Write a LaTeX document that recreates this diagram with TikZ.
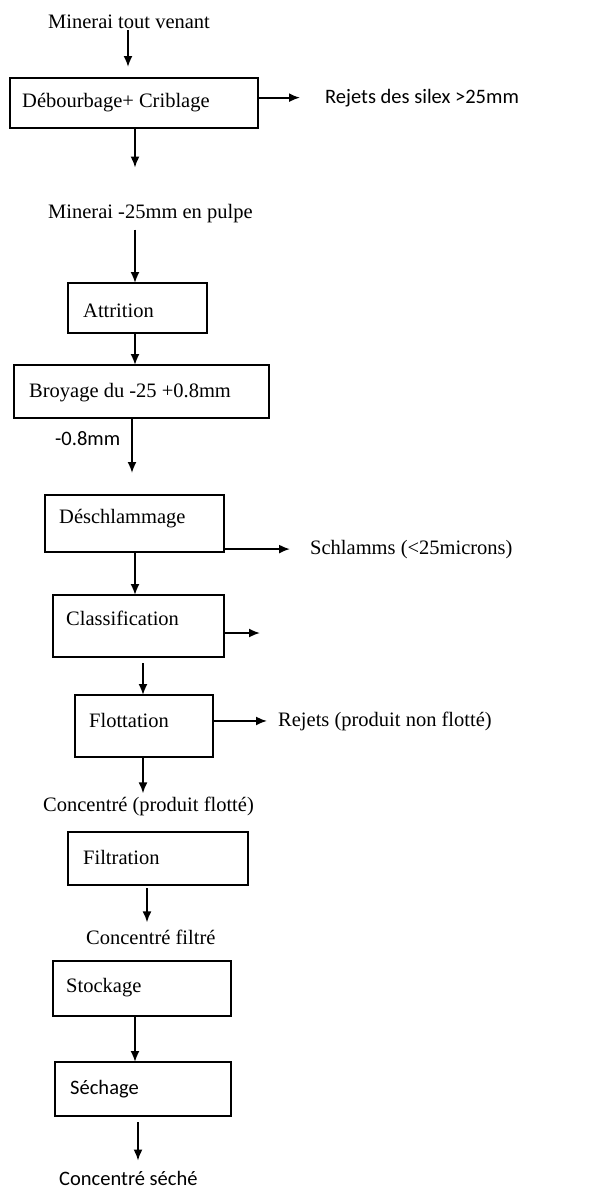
\documentclass[tikz,border=0pt]{standalone}
\usepackage{fontspec}
\setmainfont{Liberation Serif}
\newfontfamily\calib{Carlito}
\usepackage{tikz}
\usetikzlibrary{arrows.meta}

\begin{document}
\begin{tikzpicture}[x=1pt,y=-1pt,>={Latex[length=11pt,width=9pt]}]

	\tikzstyle box=[draw, line width=1.7pt, outer sep=0pt, inner sep=0pt];
	\tikzstyle txt=[inner sep=0pt, anchor=base west, font=\fontsize{20.5}{24}\selectfont];
	\tikzstyle stxt=[inner sep=0pt, anchor=base west, font=\calib\fontsize{20.5}{24}\selectfont];
	\tikzstyle flow=[line width=1.8pt, ->];

	\useasboundingbox (0,0) rectangle (611,1189);

	% boxes
	\node[box, minimum width=248, minimum height=50] (debourbage) at (134,103) {};
	\node[box, minimum width=139, minimum height=50] (attrition) at (137.5,308) {};
	\node[box, minimum width=255, minimum height=53] (broyage) at (141.5,391.5) {};
	\node[box, minimum width=179, minimum height=57] (deschlammage) at (134.5,523.5) {};
	\node[box, minimum width=171, minimum height=62] (classification) at (138.5,626) {};
	\node[box, minimum width=138, minimum height=62] (flottation) at (144,726) {};
	\node[box, minimum width=180, minimum height=53] (filtration) at (158,858.5) {};
	\node[box, minimum width=178, minimum height=55] (stockage) at (142,988.5) {};
	\node[box, minimum width=176, minimum height=54] (sechage) at (143,1089) {};

	% texts in the boxes
	\node[txt] (debourbagelbl) at (22,107) {Débourbage+ Criblage};
	\node[txt] (attritionlbl) at (83,317) {Attrition};
	\node[txt] (broyagelbl) at (29,397) {Broyage du -25 +0.8mm};
	\node[txt] (deschlammagelbl) at (59,523) {Déschlammage};
	\node[txt] (classificationlbl) at (66,625) {Classification};
	\node[txt] (flottationlbl) at (89,727) {Flottation};
	\node[txt] (filtrationlbl) at (83,864) {Filtration};
	\node[txt] (stockagelbl) at (66,992) {Stockage};
	\node[stxt] (sechagelbl) at (70,1094) {Séchage};

	% products
	\node[txt] (minerai) at (48,28) {Minerai tout venant};
	\node[stxt] (rejetsilex) at (325,103) {Rejets des silex >25mm};
	\node[txt] (minerai25) at (48,218) {Minerai -25mm en pulpe};
	\node[stxt] (fin) at (55,445) {-0.8mm};
	\node[txt] (schlamms) at (310,554) {Schlamms (<25microns)};
	\node[txt] (rejetsflot) at (278,726) {Rejets (produit non flotté)};
	\node[txt] (concentre) at (43,811) {Concentré (produit flotté)};
	\node[txt] (concfiltre) at (86,944) {Concentré filtré};
	\node[stxt] (concseche) at (59,1185) {Concentré séché};
	\coordinate (classout) at (260,633);

	% main line
	\draw[flow, shorten <=2, shorten >=11] ([xshift=80]minerai.south west) -- ([xshift=-6]debourbage.north);
	\draw[flow, shorten >=36] ([xshift=1]debourbage.south) -- ([xshift=87]minerai25.north west);
	\draw[flow, shorten <=7] ([xshift=87]minerai25.south west) -- ([xshift=-2.5]attrition.north);
	\draw[flow] ([xshift=-2.5]attrition.south) -- ([xshift=-6.5]broyage.north);
	\draw[flow, shorten >=22] ([xshift=-9.5]broyage.south) -- ([xshift=-2.5]deschlammage.north);
	\draw[flow] ([xshift=.5]deschlammage.south) -- ([xshift=-3.5]classification.north);
	\draw[flow, shorten <=6] ([xshift=4.5]classification.south) -- ([xshift=-1]flottation.north);
	\draw[flow, shorten >=3] ([xshift=-1]flottation.south) -- ([xshift=100]concentre.north west);
	\draw[flow, shorten <=3, shorten >=7] ([xshift=-11]filtration.south) -- ([xshift=61]concfiltre.north west);
	\draw[flow] ([xshift=-7]stockage.south) -- ([xshift=-8]sechage.north);
	\draw[flow, shorten <=6, shorten >=10] ([xshift=-5]sechage.south) -- ([xshift=79]concseche.north west);

	% rejects
	\draw[flow, shorten >=25] (debourbage.east |- rejetsilex.west) -- (rejetsilex.west);
	\draw[flow, shorten >=20] (deschlammage.east |- schlamms.west) -- (schlamms.west);
	\draw[flow] (classification.east |- classout) -- (classout);
	\draw[flow, shorten >=11] (flottation.east |- rejetsflot.west) -- (rejetsflot.west);

\end{tikzpicture}
\end{document}
